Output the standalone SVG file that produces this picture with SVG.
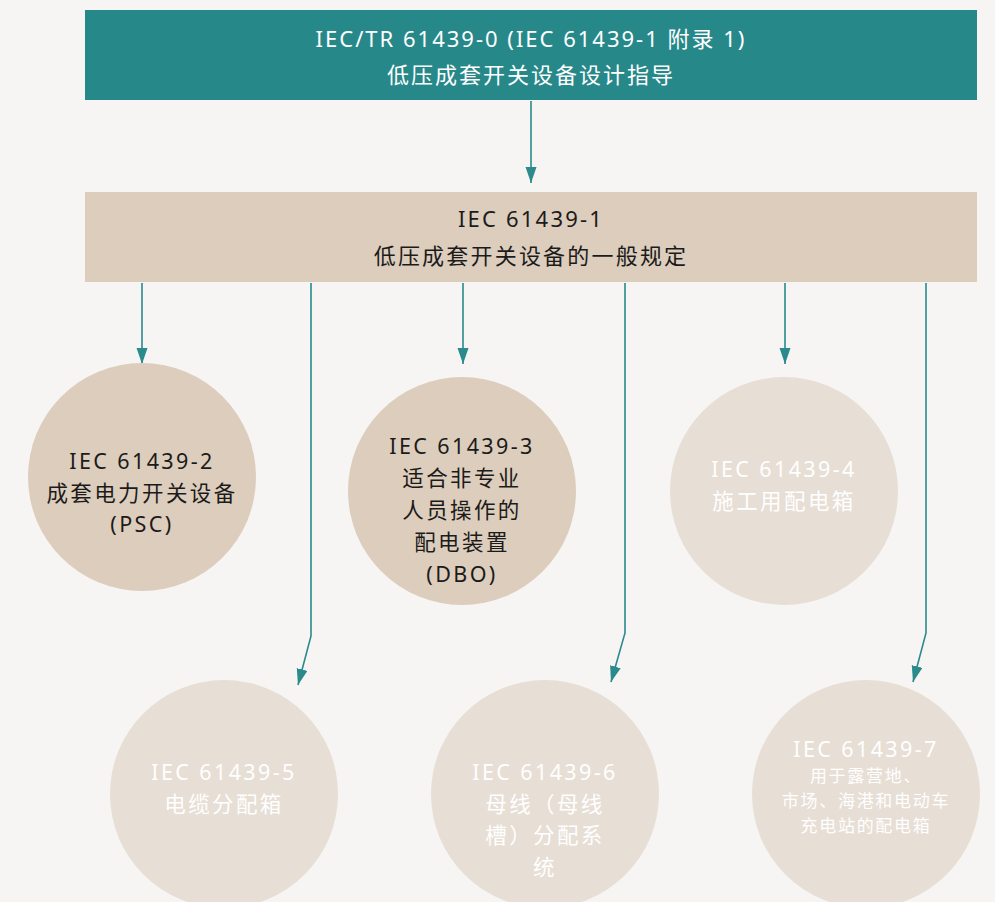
<svg xmlns="http://www.w3.org/2000/svg" width="995" height="902" viewBox="0 0 995 902">
<style>
  .bg{fill:#f6f5f3}
  .top{fill:#27888a}
  .beige{fill:#ddcdbc}
  .light{fill:#e7ded5}
  text{font-family:"Noto Sans","Noto Sans CJK SC",sans-serif;text-anchor:middle}
  .w{fill:#ffffff;font-size:22px;letter-spacing:2px}
  .d{fill:#1b1b1b;font-size:22px;letter-spacing:2.2px}
  .cw{fill:#ffffff;font-size:21.5px;letter-spacing:2.4px}
  .cd{fill:#1b1b1b;font-size:21.5px;letter-spacing:2.4px}
  .sw{fill:#ffffff;font-size:17px;letter-spacing:1.7px}
  .conn{fill:none;stroke:#2a8a8c;stroke-width:1.6;marker-end:url(#ah)}
</style>
<defs>
  <marker id="ah" markerUnits="userSpaceOnUse" markerWidth="17" markerHeight="12" refX="16" refY="5.5" orient="auto">
    <path d="M0,0 L16,5.5 L0,11 z" fill="#2a8a8c"/>
  </marker>
</defs>
<rect class="bg" x="0" y="0" width="995" height="902"/>

<g id="connectors">
  <path class="conn" d="M531,101 L531,183"/>
  <path class="conn" d="M142,283 L142,364"/>
  <path class="conn" d="M463,283 L463,364"/>
  <path class="conn" d="M785,283 L785,364"/>
  <path class="conn" d="M311,283 L311,636 L298,685"/>
  <path class="conn" d="M625,283 L625,633 L611,682"/>
  <path class="conn" d="M926,283 L926,633 L913,682"/>
</g>

<g id="n0">
  <rect class="top" x="85" y="10" width="892" height="90"/>
  <text class="w" x="531" y="47">IEC/TR 61439-0 (IEC 61439-1 附录 1)</text>
  <text class="w" x="531" y="83">低压成套开关设备设计指导</text>
</g>

<g id="n1">
  <rect class="beige" x="85" y="192" width="892" height="90"/>
  <text class="d" x="531" y="227">IEC 61439-1</text>
  <text class="d" x="531" y="264">低压成套开关设备的一般规定</text>
</g>

<g id="n2">
  <circle class="beige" cx="142" cy="477" r="114"/>
  <text class="cd" x="142" y="469">IEC 61439-2</text>
  <text class="cd" x="142" y="501">成套电力开关设备</text>
  <text class="cd" x="142" y="532">(PSC)</text>
</g>

<g id="n3">
  <circle class="beige" cx="462" cy="491" r="114"/>
  <text class="cd" x="462" y="454">IEC 61439-3</text>
  <text class="cd" x="462" y="486">适合非专业</text>
  <text class="cd" x="462" y="518">人员操作的</text>
  <text class="cd" x="462" y="550">配电装置</text>
  <text class="cd" x="462" y="582">(DBO)</text>
</g>

<g id="n4">
  <circle class="light" cx="784" cy="491" r="114"/>
  <text class="cw" x="784" y="477">IEC 61439-4</text>
  <text class="cw" x="784" y="509">施工用配电箱</text>
</g>

<g id="n5">
  <circle class="light" cx="224" cy="794" r="114"/>
  <text class="cw" x="224" y="780">IEC 61439-5</text>
  <text class="cw" x="224" y="812">电缆分配箱</text>
</g>

<g id="n6">
  <circle class="light" cx="545" cy="794" r="114"/>
  <text class="cw" x="545" y="780">IEC 61439-6</text>
  <text class="cw" x="545" y="812">母线（母线</text>
  <text class="cw" x="545" y="843">槽）分配系</text>
  <text class="cw" x="545" y="875">统</text>
</g>

<g id="n7">
  <circle class="light" cx="866" cy="794" r="114"/>
  <text class="cw" x="866" y="757">IEC 61439-7</text>
  <text class="sw" x="866" y="782">用于露营地、</text>
  <text class="sw" x="866" y="807">市场、海港和电动车</text>
  <text class="sw" x="866" y="832">充电站的配电箱</text>
</g>
</svg>
